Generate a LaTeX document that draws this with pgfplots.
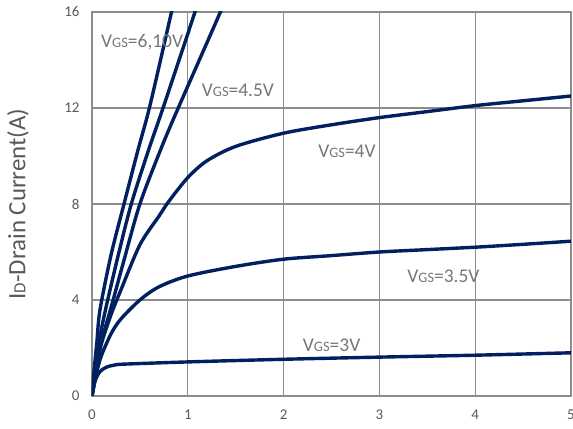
\documentclass[border=0pt]{standalone}
\usepackage{pgfplots}
\pgfplotsset{compat=1.18}
\usepackage{fontspec}
\setmainfont{Carlito}
\definecolor{navy}{HTML}{002060}
\definecolor{gridc}{HTML}{8C8C8C}
\definecolor{txt}{HTML}{595959}
\definecolor{lbl}{HTML}{767676}
\newcommand{\vgs}[1]{V{\fontsize{14.5}{16}\selectfont GS}=#1}
\begin{document}
\begin{tikzpicture}
\begin{axis}[
  scale only axis,
  width=479bp, height=384bp,
  xmin=0, xmax=5, ymin=0, ymax=16,
  xtick={0,1,2,3,4,5}, ytick={0,4,8,12,16},
  major tick length=0pt,
  grid=major,
  major grid style={gridc, line width=1.3bp},
  axis line style={gridc, line width=1.6bp},
  tick label style={font=\fontsize{15}{18}\selectfont, text=txt},
  /pgf/number format/assume math mode=true,
  xticklabel shift=10bp,
  yticklabel shift=9bp,
  ylabel={I{\fontsize{17}{20}\selectfont D}-Drain Current(A)},
  every axis y label/.style={at={(rel axis cs:0,0.5)}, xshift=-74bp, rotate=90, anchor=center, font=\fontsize{25}{29}\selectfont, text=txt},
  clip=true,
]
% VGS = 6,10 V
\addplot[navy, line width=3.4bp, smooth] coordinates {
 (0,0) (0.02,1.0) (0.05,2.2) (0.083,3.58) (0.2,5.9) (0.334,8.0) (0.48,10.25) (0.605,12.1) (0.83,16) (0.86,16.5)};
% second steep curve
\addplot[navy, line width=3.4bp, smooth] coordinates {
 (0,0) (0.03,1.2) (0.07,2.2) (0.14,3.58) (0.27,5.8) (0.41,8.0) (0.595,10.3) (0.75,12.1) (1.075,16) (1.11,16.5)};
% VGS = 4.5 V
\addplot[navy, line width=3.4bp, smooth] coordinates {
 (0,0) (0.04,1.2) (0.1,2.3) (0.2,3.7) (0.33,5.6) (0.5,8.0) (0.72,10.3) (0.9,12.0) (1.34,16) (1.38,16.5)};
% VGS = 4 V
\addplot[navy, line width=3.4bp, smooth] coordinates {
 (0,0) (0.05,1.2) (0.1,2.2) (0.2,3.4) (0.3,4.4) (0.5,6.3) (0.7,7.5) (0.8,8.1) (1,9.1) (1.2,9.8) (1.5,10.4) (2,10.95) (2.5,11.3) (3,11.6) (3.5,11.85) (4,12.1) (4.5,12.3) (5,12.5)};
% VGS = 3.5 V
\addplot[navy, line width=3.4bp, smooth] coordinates {
 (0,0) (0.05,1.0) (0.1,1.7) (0.2,2.6) (0.3,3.2) (0.5,4.0) (0.7,4.55) (1,5.0) (1.5,5.4) (2,5.7) (2.5,5.85) (3,6.0) (3.5,6.1) (4,6.2) (4.5,6.32) (5,6.45)};
% VGS = 3 V
\addplot[navy, line width=3.4bp, smooth] coordinates {
 (0,0) (0.03,0.6) (0.08,1.0) (0.15,1.2) (0.25,1.3) (0.35,1.33) (1,1.42) (2,1.53) (3,1.62) (4,1.7) (5,1.8)};
\node[anchor=west, text=lbl, font=\fontsize{19.5}{23}\selectfont, inner sep=0pt] at (axis cs:0.094,14.75) {\vgs{6,10V}};
\node[anchor=west, text=lbl, font=\fontsize{19.5}{23}\selectfont, inner sep=0pt] at (axis cs:1.145,12.72) {\vgs{4.5V}};
\node[anchor=west, text=lbl, font=\fontsize{19.5}{23}\selectfont, inner sep=0pt] at (axis cs:2.36,10.18) {\vgs{4V}};
\node[anchor=west, text=lbl, font=\fontsize{19.5}{23}\selectfont, inner sep=0pt] at (axis cs:3.29,4.97) {\vgs{3.5V}};
\node[anchor=west, text=lbl, font=\fontsize{19.5}{23}\selectfont, inner sep=0pt] at (axis cs:2.2,2.1) {\vgs{3V}};
\end{axis}
\pgfresetboundingbox
\path[use as bounding box] (-92bp,-33bp) rectangle (481bp,396bp);
\end{tikzpicture}
\end{document}
